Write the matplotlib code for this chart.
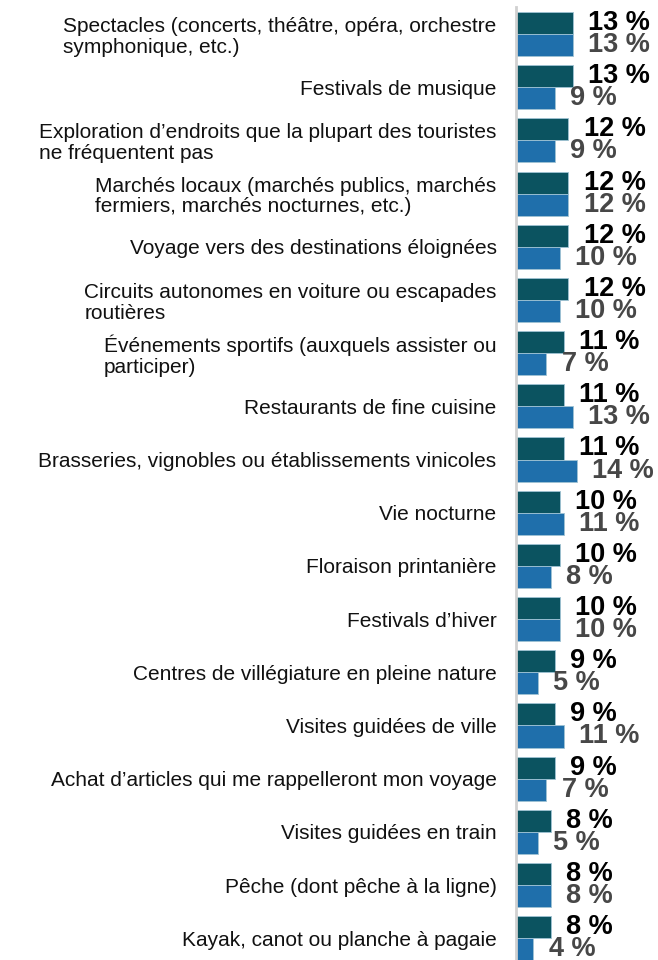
import matplotlib.pyplot as plt
import numpy as np

plt.rcParams['font.family'] = ['Liberation Sans', 'DejaVu Sans']

categories = [
    "Spectacles (concerts, théâtre, opéra, orchestre\nsymphonique, etc.)",
    "Festivals de musique",
    "Exploration d\u2019endroits que la plupart des touristes\nne fréquentent pas",
    "Marchés locaux (marchés publics, marchés\nfermiers, marchés nocturnes, etc.)",
    "Voyage vers des destinations éloignées",
    "Circuits autonomes en voiture ou escapades\nroutières",
    "Événements sportifs (auxquels assister ou\nparticiper)",
    "Restaurants de fine cuisine",
    "Brasseries, vignobles ou établissements vinicoles",
    "Vie nocturne",
    "Floraison printanière",
    "Festivals d\u2019hiver",
    "Centres de villégiature en pleine nature",
    "Visites guidées de ville",
    "Achat d\u2019articles qui me rappelleront mon voyage",
    "Visites guidées en train",
    "Pêche (dont pêche à la ligne)",
    "Kayak, canot ou planche à pagaie",
]
series_a = [13, 13, 12, 12, 12, 12, 11, 11, 11, 10, 10, 10, 9, 9, 9, 8, 8, 8]
series_b = [13, 9, 9, 12, 10, 10, 7, 13, 14, 11, 8, 10, 5, 11, 7, 5, 8, 4]

dark = "#0b5360"
blue = "#1f6fab"

fig = plt.figure(figsize=(6.58, 9.6), dpi=100)
ax = fig.add_axes([516 / 658, 0, 1 - 516 / 658, 1])

y = np.arange(len(categories))
h = 0.415
bars_a = ax.barh(y - h / 2, series_a, height=h, color=dark, edgecolor="#9fc3d3", linewidth=0.6)
bars_b = ax.barh(y + h / 2, series_b, height=h, color=blue, edgecolor="#9fc3d3", linewidth=0.6)

ax.bar_label(bars_a, labels=[f"{v} %" for v in series_a], padding=11,
             fontsize=19.5, fontweight="bold", color="black")
ax.bar_label(bars_b, labels=[f"{v} %" for v in series_b], padding=11,
             fontsize=19.5, fontweight="bold", color="#474747")

ax.set_xlim(0, 32.6)
ax.set_ylim(17.41, -0.64)
ax.set_xticks([])
ax.set_yticks(y)
ax.set_yticklabels(categories, fontsize=15, color="#111111")
for lab in ax.get_yticklabels():
    lab.set_multialignment("left")
    lab.set_linespacing(1.12)
ax.tick_params(axis="y", length=0, pad=14)

for s in ["top", "right", "bottom"]:
    ax.spines[s].set_visible(False)
ax.spines["left"].set_color("#d0d0d0")
ax.spines["left"].set_linewidth(2)
ax.spines["left"].set_bounds(-0.5, 17.41)

fig.savefig("out.png", dpi=100)
